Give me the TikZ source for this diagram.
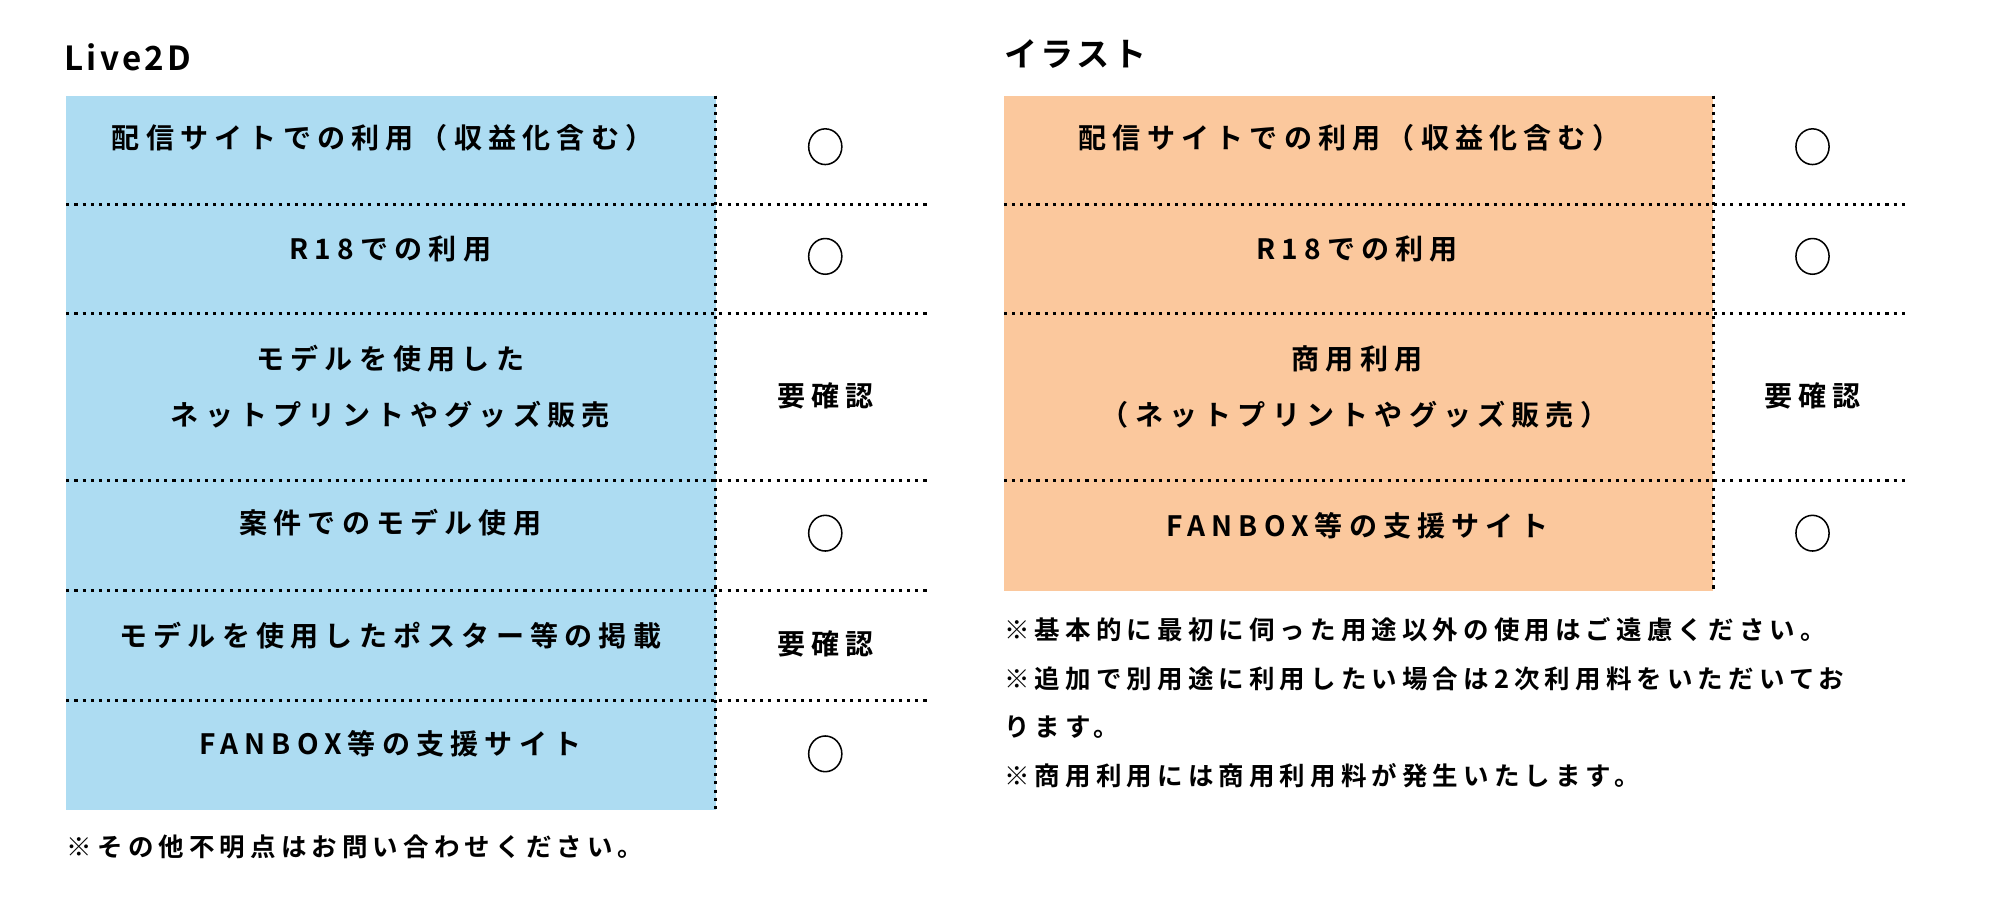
\documentclass[tikz,border=0pt]{standalone}
\usepackage{fontspec}
\usetikzlibrary{shapes.geometric}
\setmainfont{Noto Sans CJK JP}[BoldFont={Noto Sans CJK JP Bold}]
\newfontfamily\cell{Noto Sans CJK JP Bold}[LetterSpace=22]
\newfontfamily\note{Noto Sans CJK JP Bold}[LetterSpace=20]
\newfontfamily\ttl{Noto Sans CJK JP Bold}[LetterSpace=10]
\definecolor{lblue}{HTML}{ADDCF2}
\definecolor{lorange}{HTML}{FBC89D}
\begin{document}
\begin{tikzpicture}[x=0.5pt,y=-0.5pt,
  sep/.style={dotted,line width=1.2pt},
  cel/.style={font=\cell\fontsize{11}{13}\selectfont,inner sep=0pt},
  nt/.style={font=\note\fontsize{10}{12}\selectfont,inner sep=0pt,anchor=west},
  ttlst/.style={font=\ttl\fontsize{13}{15}\selectfont,inner sep=0pt,anchor=west},
  ok/.style={draw,line width=0.6pt,ellipse,minimum width=13pt,minimum height=14pt,inner sep=0pt}]
\useasboundingbox (0,0) rectangle (1568,703);
% Left
\node[ttlst] (t1) at (50,45) {Live2D};
\fill[lblue] (52,75) rectangle (561,635);
\foreach \y in {160,246,377,463,549} \draw[sep] (52,\y) -- (730,\y);
\draw[sep] (561,75) -- (561,635);
\node[cel] (a1) at (300,108) {配信サイトでの利用（収益化含む）};
\node[cel] (a2) at (306,195) {R18での利用};
\node[cel] (a3) at (306,281) {モデルを使用した};
\node[cel] (a3b) at (306,325) {ネットプリントやグッズ販売};
\node[cel] (a4) at (306,410) {案件でのモデル使用};
\node[cel] (a5) at (306,498) {モデルを使用したポスター等の掲載};
\node[cel] (a6) at (306,583) {FANBOX等の支援サイト};
\node[ok] (b1) at (647,115) {};
\node[ok] (b2) at (647,201) {};
\node[cel] (b3) at (647,310) {要確認};
\node[ok] (b4) at (647,418) {};
\node[cel] (b5) at (647,505) {要確認};
\node[ok] (b6) at (647,591) {};
\node[nt] (n1) at (52,664) {※その他不明点はお問い合わせください。};
% Right
\node[ttlst] (t2) at (787,42) {イラスト};
\fill[lorange] (787,75) rectangle (1343,463);
\foreach \y in {160,246,377} \draw[sep] (787,\y) -- (1497,\y);
\draw[sep] (1343,75) -- (1343,463);
\node[cel] (c1) at (1058,108) {配信サイトでの利用（収益化含む）};
\node[cel] (c2) at (1064,195) {R18での利用};
\node[cel] (c3) at (1064,281) {商用利用};
\node[cel] (c3b) at (1062,325) {（ネットプリントやグッズ販売）};
\node[cel] (c4) at (1064,412) {FANBOX等の支援サイト};
\node[ok] (d1) at (1421,115) {};
\node[ok] (d2) at (1421,201) {};
\node[cel] (d3) at (1421,310) {要確認};
\node[ok] (d4) at (1421,418) {};
\node[nt] (m1) at (787,494) {※基本的に最初に伺った用途以外の使用はご遠慮ください。};
\node[nt] (m2) at (787,532) {※追加で別用途に利用したい場合は2次利用料をいただいてお};
\node[nt] (m3) at (787,570) {ります。};
\node[nt] (m4) at (787,608) {※商用利用には商用利用料が発生いたします。};
\end{tikzpicture}
\end{document}
